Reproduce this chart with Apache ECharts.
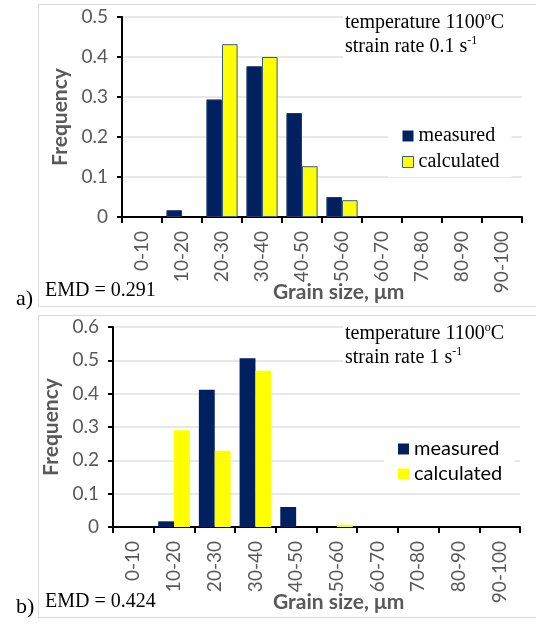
<!DOCTYPE html>
<html>
<head>
<meta charset="utf-8">
<script src="https://cdn.jsdelivr.net/npm/echarts@6/dist/echarts.min.js"></script>
<style>
  html, body { margin: 0; padding: 0; background: #fff; }
  #chart { width: 536px; height: 624px; }
</style>
</head>
<body>
<div id="chart"></div>
<script>
// grain size bins
const categories = ["0-10", "10-20", "20-30", "30-40", "40-50", "50-60", "60-70", "70-80", "80-90", "90-100"];

// a) strain rate 0.1 s-1
const measuredA = [0, 0.017, 0.294, 0.377, 0.26, 0.05, 0, 0, 0, 0];
const calculatedA = [0, 0, 0.432, 0.4, 0.127, 0.042, 0, 0, 0, 0];
// b) strain rate 1 s-1
const measuredB = [0, 0.017, 0.412, 0.506, 0.06, 0, 0, 0, 0, 0];
const calculatedB = [0, 0.29, 0.229, 0.469, 0, 0.007, 0, 0, 0, 0];

const yMaxA = 0.5;
const yMaxB = 0.6;
const yStep = 0.1;

const NAVY = "#002060";
const YELLOW = "#ffff00";
const GREY = "#595959";
const SANS = "Lato, 'Liberation Sans', sans-serif";
const SERIF = "'Liberation Serif', 'DejaVu Serif', serif";

const chart = echarts.init(document.getElementById("chart"));

// zero bins are empty in the picture, no outline drawn
const bars = (arr) => arr.map((v) => (v === 0 ? "-" : v));

function xAxisFor(idx) {
  return {
    type: "category",
    gridIndex: idx,
    data: categories,
    axisLine: { lineStyle: { color: "#000", width: 2 } },
    axisTick: { show: true, length: 6, lineStyle: { color: "#000", width: 2 } },
    axisLabel: { rotate: 90, color: GREY, fontSize: 19, fontFamily: SANS, margin: 14, interval: 0 },
  };
}

function yAxisFor(idx, max) {
  return {
    type: "value",
    gridIndex: idx,
    min: 0,
    max: max,
    interval: yStep,
    axisLine: { show: true, lineStyle: { color: "#000", width: 2 } },
    axisTick: { show: true, length: 5, lineStyle: { color: "#000", width: 2 } },
    axisLabel: {
      color: GREY, fontSize: 19, fontFamily: SANS, margin: 14,
      formatter: (v) => (v === 0 ? "0" : v.toFixed(1)),
    },
    splitLine: { lineStyle: { color: "#e0e0e0", width: 1.5 } },
    name: "Frequency",
    nameLocation: "middle",
    nameRotate: 90,
    nameGap: idx === 0 ? 46 : 48,
    nameTextStyle: { color: GREY, fontSize: 21, fontWeight: "bold", fontFamily: SANS },
  };
}

function legendFor(top, left, font, size, gap, calcBorder) {
  return {
    orient: "vertical",
    left: left,
    top: top,
    itemWidth: 11,
    itemHeight: 11,
    itemGap: gap,
    padding: [5, 12, 5, 14],
    backgroundColor: "#fff",
    textStyle: { fontFamily: font, fontSize: size, color: "#000" },
    data: [
      { name: "measured", icon: "rect", itemStyle: { color: NAVY, borderWidth: 0 } },
      { name: "calculated", icon: "rect",
        itemStyle: calcBorder ? { color: YELLOW, borderColor: "#3a5a8a", borderWidth: 1 } : { color: YELLOW, borderWidth: 0 } },
    ],
  };
}

function note(x, y, text) {
  return {
    type: "text",
    left: x,
    top: y,
    z: 100,
    style: {
      text: text,
      fontFamily: SERIF,
      fontSize: 20,
      lineHeight: 24,
      fill: "#000",
      backgroundColor: "#fff",
      padding: [5, 30, 4, 2],
      rich: { sup: { fontFamily: SERIF, fontSize: 12, verticalAlign: "top", padding: [0, 0, 8, 0] } },
    },
  };
}

function plainText(x, y, text, font, size, weight, color) {
  return {
    type: "text",
    x: x,
    y: y,
    z: 100,
    style: { text: text, fontFamily: font, fontSize: size, fontWeight: weight, fill: color,
      textAlign: "left", textVerticalAlign: "middle" },
  };
}

const barBase = { type: "bar", barGap: "0%", barCategoryGap: "22%" };

chart.setOption({
  animation: false,
  grid: [
    { left: 122, top: 17, width: 400, height: 200 },
    { left: 113, top: 327, width: 407, height: 200 },
  ],
  xAxis: [xAxisFor(0), xAxisFor(1)],
  yAxis: [yAxisFor(0, yMaxA), yAxisFor(1, yMaxB)],
  legend: [
    legendFor(121, 388, SERIF, 20, 6, true),
    legendFor(434, 384, SANS, 20, 5, false),
  ],
  series: [
    Object.assign({}, barBase, { name: "measured", xAxisIndex: 0, yAxisIndex: 0, data: bars(measuredA),
      itemStyle: { color: NAVY, borderColor: "#1f3a6a", borderWidth: 1 } }),
    Object.assign({}, barBase, { name: "calculated", xAxisIndex: 0, yAxisIndex: 0, data: bars(calculatedA),
      itemStyle: { color: YELLOW, borderColor: "#3a5a8a", borderWidth: 1 } }),
    Object.assign({}, barBase, { name: "measured", xAxisIndex: 1, yAxisIndex: 1, data: bars(measuredB),
      itemStyle: { color: NAVY } }),
    Object.assign({}, barBase, { name: "calculated", xAxisIndex: 1, yAxisIndex: 1, data: bars(calculatedB),
      itemStyle: { color: YELLOW } }),
  ],
  graphic: [
    { type: "rect", z: -1, shape: { x: 38.5, y: 4.5, width: 500, height: 302 },
      style: { fill: "none", stroke: "#d9d9d9", lineWidth: 1 } },
    { type: "rect", z: -1, shape: { x: 38.5, y: 315.5, width: 500, height: 302 },
      style: { fill: "none", stroke: "#d9d9d9", lineWidth: 1 } },
    note(343, 6, "temperature 1100{sup|o}C\nstrain rate 0.1 s{sup|-1}"),
    note(343, 317, "temperature 1100{sup|o}C\nstrain rate 1 s{sup|-1}"),
    plainText(45, 291, "EMD = 0.291", SERIF, 20, "normal", "#000"),
    plainText(45, 602, "EMD = 0.424", SERIF, 20, "normal", "#000"),
    plainText(16, 299, "a)", SERIF, 22, "normal", "#000"),
    plainText(16, 607, "b)", SERIF, 22, "normal", "#000"),
    plainText(273, 292, "Grain size, \u03bcm", SANS, 21, "bold", GREY),
    plainText(273, 602, "Grain size, \u03bcm", SANS, 21, "bold", GREY),
  ],
});
</script>
</body>
</html>
